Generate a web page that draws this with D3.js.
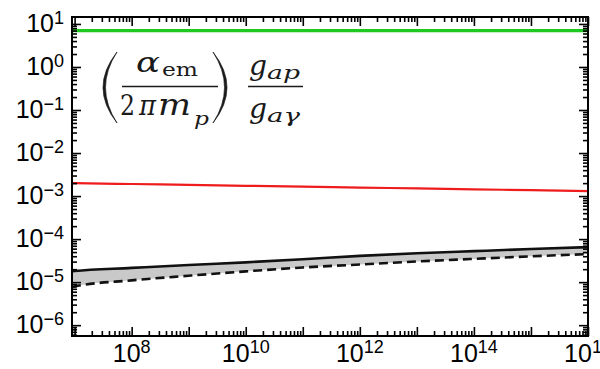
<!DOCTYPE html>
<html>
<head>
<meta charset="utf-8">
<script src="https://cdn.jsdelivr.net/npm/d3@7"></script>
<style>
  body { margin: 0; background: #fff; }
  svg { display: block; }
</style>
</head>
<body>
<svg id="chart" width="600" height="369"></svg>
<script>
// Axion mass grid (log-spaced) and coupling-ratio curves
const massGrid   = [9e6, 1e7, 1e8, 1e9, 1e10, 1e11, 1e12, 1e13, 1e14, 1e15, 1e16];
const greenRatio = [7.0, 7.0, 7.0, 7.0, 7.0, 7.0, 7.0, 7.0, 7.0, 7.0, 7.0];
const redRatio   = [2.0e-3, 1.995e-3, 1.905e-3, 1.816e-3, 1.734e-3, 1.652e-3, 1.578e-3, 1.507e-3, 1.437e-3, 1.371e-3, 1.306e-3];
const upperBand  = [1.80e-5, 1.82e-5, 2.14e-5, 2.51e-5, 2.88e-5, 3.39e-5, 4.07e-5, 4.68e-5, 5.25e-5, 5.89e-5, 6.52e-5];
const lowerBand  = [7.65e-6, 7.94e-6, 1.10e-5, 1.41e-5, 1.78e-5, 2.19e-5, 2.57e-5, 3.02e-5, 3.47e-5, 3.98e-5, 4.48e-5];

const xDecades     = [7, 8, 9, 10, 11, 12, 13, 14, 15, 16];
const xLabelPowers = [8, 10, 12, 14, 16];
const yDecades     = [-6, -5, -4, -3, -2, -1, 0, 1];

const svg = d3.select("#chart");
const frame = { left: 72, right: 588, top: 17, bottom: 336 };

const x = d3.scaleLog().domain([9e6, 1e16]).range([frame.left, frame.right]);
const y = d3.scaleLog().domain([5.6e-7, 14.5]).range([frame.bottom, frame.top]);

// tick positions: decades are major, 2..9 multiples are minor
const xMajor = xDecades.map(e => Math.pow(10, e)).filter(v => v >= x.domain()[0] && v <= x.domain()[1]);
const xMinor = [];
d3.range(6, 16).forEach(e => d3.range(2, 10).forEach(k => {
  const v = k * Math.pow(10, e);
  if (v > x.domain()[0] && v < x.domain()[1]) xMinor.push(v);
}));
const yMajor = yDecades.map(e => Math.pow(10, e));
const yMinor = [];
d3.range(-7, 2).forEach(e => d3.range(2, 10).forEach(k => {
  const v = k * Math.pow(10, e);
  if (v > y.domain()[0] && v < y.domain()[1]) yMinor.push(v);
}));

svg.append("defs").append("clipPath").attr("id", "plotClip")
  .append("rect").attr("x", frame.left).attr("y", frame.top)
  .attr("width", frame.right - frame.left).attr("height", frame.bottom - frame.top);

const plot = svg.append("g").attr("clip-path", "url(#plotClip)");

const rows = massGrid.map((m, i) => ({
  m, g: greenRatio[i], r: redRatio[i], hi: upperBand[i], lo: lowerBand[i]
}));

// shaded band between the two black curves
plot.append("path").datum(rows)
  .attr("fill", "#c9c9c9")
  .attr("d", d3.area().x(d => x(d.m)).y0(d => y(d.lo)).y1(d => y(d.hi)).curve(d3.curveMonotoneX));

const line = key => d3.line().x(d => x(d.m)).y(d => y(d[key])).curve(d3.curveMonotoneX);

plot.append("path").datum(rows).attr("fill", "none")
  .attr("stroke", "#111").attr("stroke-width", 2.6).attr("d", line("hi"));
plot.append("path").datum(rows).attr("fill", "none")
  .attr("stroke", "#111").attr("stroke-width", 2.6)
  .attr("stroke-dasharray", "9,5").attr("d", line("lo"));
plot.append("path").datum(rows).attr("fill", "none")
  .attr("stroke", "#ee1c1c").attr("stroke-width", 2.2).attr("d", line("r"));
plot.append("path").datum(rows).attr("fill", "none")
  .attr("stroke", "#1ec81e").attr("stroke-width", 3.2).attr("d", line("g"));

// axes with inward ticks on all four sides
const axisStyle = g => {
  g.select(".domain").remove();
  g.selectAll(".tick line").attr("stroke", "#000").attr("stroke-width", 1.6);
  g.selectAll(".tick text").remove();
};
function addXAxes(values, len) {
  svg.append("g").attr("transform", `translate(0,${frame.bottom})`)
    .call(d3.axisBottom(x).tickValues(values).tickSizeInner(-len).tickSizeOuter(0)).call(axisStyle);
  svg.append("g").attr("transform", `translate(0,${frame.top})`)
    .call(d3.axisTop(x).tickValues(values).tickSizeInner(-len).tickSizeOuter(0)).call(axisStyle);
}
function addYAxes(values, len) {
  svg.append("g").attr("transform", `translate(${frame.left},0)`)
    .call(d3.axisLeft(y).tickValues(values).tickSizeInner(-len).tickSizeOuter(0)).call(axisStyle);
  svg.append("g").attr("transform", `translate(${frame.right},0)`)
    .call(d3.axisRight(y).tickValues(values).tickSizeInner(-len).tickSizeOuter(0)).call(axisStyle);
}
addXAxes(xMinor, 5);
addXAxes(xMajor, 9);
addYAxes(yMinor, 5);
addYAxes(yMajor, 9);

svg.append("rect").attr("x", frame.left).attr("y", frame.top)
  .attr("width", frame.right - frame.left).attr("height", frame.bottom - frame.top)
  .attr("fill", "none").attr("stroke", "#000").attr("stroke-width", 2);

// power-of-ten labels
const fmtExp = e => (e < 0 ? "\u2212" + (-e) : String(e));

const yLab = svg.append("g").attr("font-family", "'Liberation Sans', Arial, sans-serif").attr("fill", "#000");
yDecades.forEach(e => {
  const t = yLab.append("text").attr("x", frame.left - 8).attr("y", y(Math.pow(10, e)) + 8)
    .attr("text-anchor", "end");
  t.append("tspan").attr("font-size", 25).text("10");
  t.append("tspan").attr("font-size", 18).attr("dy", -8).text(fmtExp(e));
});

const xLab = svg.append("g").attr("font-family", "'Liberation Sans', Arial, sans-serif").attr("fill", "#000");
xLabelPowers.forEach(e => {
  const t = xLab.append("text").attr("x", x(Math.pow(10, e))).attr("y", 362)
    .attr("text-anchor", "middle");
  t.append("tspan").attr("font-size", 25).text("10");
  t.append("tspan").attr("font-size", 18).attr("dy", -9).text(fmtExp(e));
});

// formula annotation: (alpha_em / 2 pi m_p) g_ap / g_a gamma
const fm = svg.append("g").attr("font-family", "'DejaVu Serif', serif").attr("fill", "#1a1a1a");
fm.append("path").attr("d", "M117,52 Q89,87.5 117,123 Q94,87.5 117,52 Z")
  .attr("stroke", "#1a1a1a").attr("stroke-width", 0.7);
fm.append("path").attr("d", "M213,52 Q241,87.5 213,123 Q236,87.5 213,52 Z")
  .attr("stroke", "#1a1a1a").attr("stroke-width", 0.7);
fm.append("line").attr("x1", 122).attr("x2", 218).attr("y1", 86.5).attr("y2", 86.5)
  .attr("stroke", "#1a1a1a").attr("stroke-width", 1.5);
fm.append("line").attr("x1", 248).attr("x2", 303).attr("y1", 86.5).attr("y2", 86.5)
  .attr("stroke", "#1a1a1a").attr("stroke-width", 1.5);

const piece = (txt, px, py, size, italic, len) => {
  const t = fm.append("text").attr("x", px).attr("y", py).attr("font-size", size)
    .attr("font-style", italic ? "italic" : "normal").text(txt);
  if (len) t.attr("textLength", len).attr("lengthAdjust", "spacingAndGlyphs");
};
piece("\u03B1", 136, 72, 27, true, 24);
piece("em", 162, 76, 19, false, 36);
piece("2", 120, 115, 28, false, 15);
piece("\u03C0", 139, 115, 27, true, 17);
piece("m", 158, 115, 29, true, 33);
piece("p", 194, 125, 19, true, 15);
piece("g", 249, 75, 27, true, 18);
piece("ap", 267, 79, 19, true, 33);
piece("g", 249, 118, 27, true, 18);
piece("a\u03B3", 267, 122, 19, true, 33);
</script>
</body>
</html>
